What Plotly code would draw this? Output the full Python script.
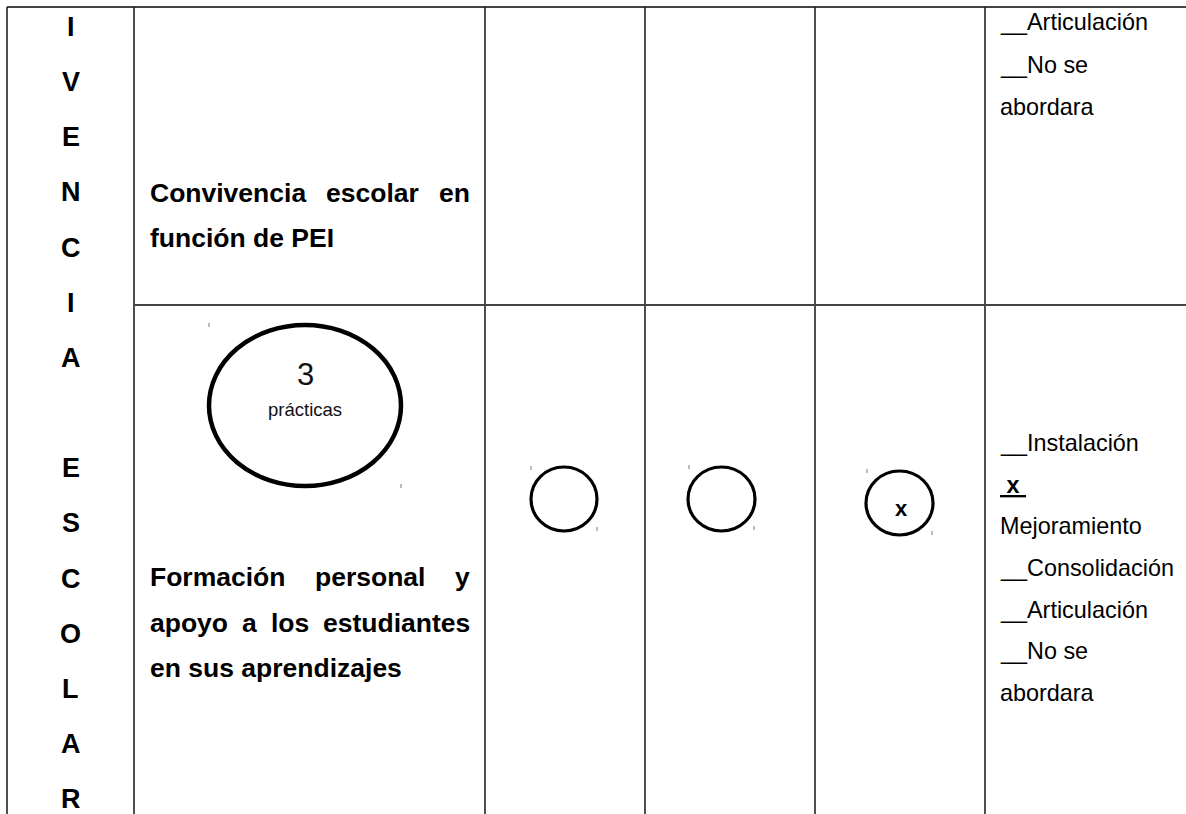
import plotly.graph_objects as go

# ---------------- data ----------------
side_letters = ["I", "V", "E", "N", "C", "I", "A", "", "E", "S", "C", "O", "L", "A", "R"]
row1_label = ["Convivencia escolar en", "función de PEI"]
row2_label = ["Formación personal y", "apoyo a los estudiantes", "en sus aprendizajes"]
practice_count = "3"
practice_word = "prácticas"
level_marks = ["", "", "x"]
row1_options = ["__Articulación", "__No se", "abordara"]
row2_options = ["__Instalación", "<b><u> x </u></b>", "Mejoramiento", "__Consolidación",
                "__Articulación", "__No se", "abordara"]

# ---------------- layout geometry ----------------
W, H = 1186, 814
col_x = [7, 134, 485, 645, 815, 985]
top_y = 7
split_y = 305
LINE = dict(color="#222", width=1.6)
FONT = "Liberation Sans, Arial, sans-serif"
BOLD_SIZE = 26.5
REG_SIZE = 23.4

# Liberation Sans Bold advance widths (em/1000)
BW = {'a': 556, 'b': 611, 'c': 556, 'd': 611, 'e': 556, 'f': 333, 'g': 611, 'h': 611, 'i': 278,
      'j': 278, 'k': 556, 'l': 278, 'm': 889, 'n': 611, 'o': 611, 'p': 611, 'q': 611, 'r': 389,
      's': 556, 't': 333, 'u': 611, 'v': 556, 'w': 778, 'x': 556, 'y': 556, 'z': 500, 'C': 722,
      'F': 611, 'ó': 611, 'á': 556, 'P': 667, 'E': 667, 'I': 278, ' ': 278}


def bold_width(word):
    return sum(BW.get(ch, 600) for ch in word) / 1000.0 * BOLD_SIZE


fig = go.Figure()
shapes = []
annotations = []

# table grid
shapes.append(dict(type="line", x0=col_x[0], x1=W, y0=top_y, y1=top_y, line=dict(color="#444", width=2)))
for cx in col_x:
    shapes.append(dict(type="line", x0=cx, x1=cx, y0=top_y, y1=H, line=LINE))
shapes.append(dict(type="line", x0=col_x[1], x1=W, y0=split_y, y1=split_y, line=dict(color="#444", width=2)))

# vertical side letters
letter_cx = (col_x[0] + col_x[1]) / 2
for i, ch in enumerate(side_letters):
    if ch:
        annotations.append(dict(x=letter_cx, y=27 + i * 55.15, text="<b>%s</b>" % ch, showarrow=False,
                                xanchor="center", yanchor="middle",
                                font=dict(family=FONT, size=27, color="#000")))


def justified(lines, x_left, x_right, y0, step):
    for li, line in enumerate(lines):
        y = y0 + li * step
        words = line.split(" ")
        last = li == len(lines) - 1
        if last or len(words) == 1:
            annotations.append(dict(x=x_left, y=y, text="<b>%s</b>" % line, showarrow=False,
                                    xanchor="left", yanchor="middle",
                                    font=dict(family=FONT, size=BOLD_SIZE, color="#000")))
            continue
        widths = [bold_width(w) for w in words]
        gap = (x_right - x_left - sum(widths)) / (len(words) - 1)
        x = x_left
        for w, wd in zip(words, widths):
            annotations.append(dict(x=x, y=y, text="<b>%s</b>" % w, showarrow=False,
                                    xanchor="left", yanchor="middle",
                                    font=dict(family=FONT, size=BOLD_SIZE, color="#000")))
            x += wd + gap


justified(row1_label, 148, 468, 193, 45)
justified(row2_label, 148, 468, 577, 45.5)

# big ellipse with practice count
shapes.append(dict(type="circle", x0=209, x1=401, y0=325, y1=486, line=dict(color="#000", width=4.5)))
annotations.append(dict(x=305, y=374, text=practice_count, showarrow=False, xanchor="center", yanchor="middle",
                        font=dict(family=FONT, size=31, color="#111")))
annotations.append(dict(x=305, y=409, text=practice_word, showarrow=False, xanchor="center", yanchor="middle",
                        font=dict(family=FONT, size=18.5, color="#111")))

# small level circles
circle_boxes = [(531, 597, 467, 531), (688, 755, 467, 531), (866, 933, 471, 535)]
for (x0, x1, y0, y1), mark in zip(circle_boxes, level_marks):
    shapes.append(dict(type="circle", x0=x0, x1=x1, y0=y0, y1=y1, line=dict(color="#000", width=3.2)))
    if mark:
        annotations.append(dict(x=(x0 + x1) / 2 + 2, y=(y0 + y1) / 2 + 5, text="<b>%s</b>" % mark,
                                showarrow=False, xanchor="center", yanchor="middle",
                                font=dict(family=FONT, size=22, color="#000")))

# tiny corner marks (frame handles)
ticks = [(209, 323), (401, 484), (531, 466), (597, 527), (689, 465), (754, 526), (867, 469), (932, 531)]
for tx, ty in ticks:
    shapes.append(dict(type="line", x0=tx, x1=tx, y0=ty, y1=ty + 4, line=dict(color="#777", width=1)))

# option lists in last column
opt_x = 998
for i, t in enumerate(row1_options):
    annotations.append(dict(x=opt_x, y=22 + i * 42.5, text=t, showarrow=False, xanchor="left", yanchor="middle",
                            font=dict(family=FONT, size=REG_SIZE, color="#000")))
for i, t in enumerate(row2_options):
    annotations.append(dict(x=opt_x, y=443 + i * 41.67, text=t, showarrow=False, xanchor="left", yanchor="middle",
                            font=dict(family=FONT, size=REG_SIZE, color="#000")))

fig.update_layout(
    width=W, height=H, margin=dict(l=0, r=0, t=0, b=0),
    paper_bgcolor="white", plot_bgcolor="white",
    xaxis=dict(range=[0, W], visible=False, fixedrange=True),
    yaxis=dict(range=[H, 0], visible=False, fixedrange=True),
    shapes=shapes, annotations=annotations, showlegend=False,
)
fig.write_html("out.html", config={"displayModeBar": False},
               post_script="document.body.style.margin='0';document.body.style.overflow='hidden';")
